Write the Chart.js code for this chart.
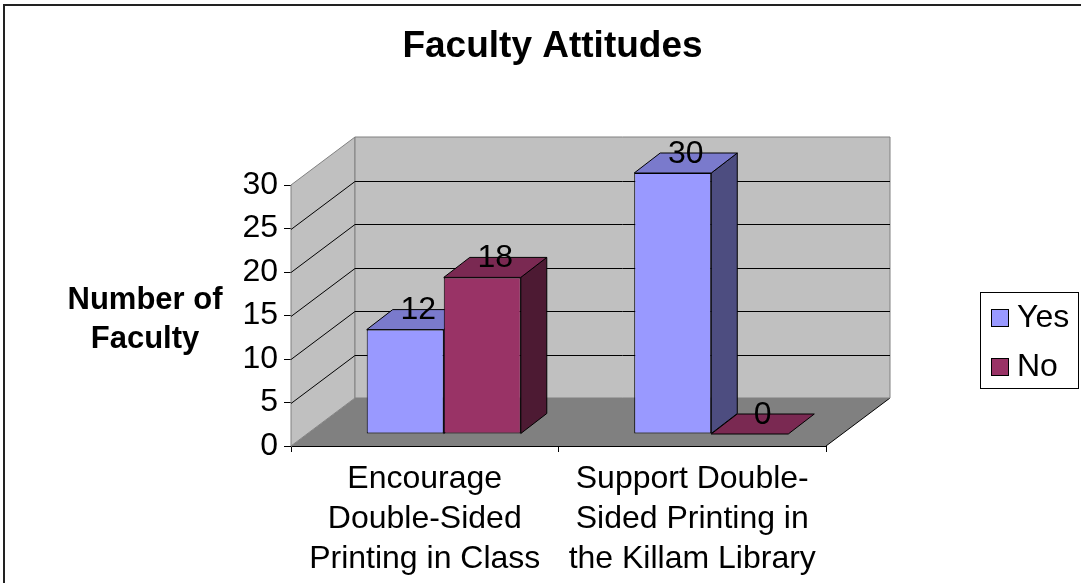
<!DOCTYPE html>
<html>
<head>
<meta charset="utf-8">
<title>Faculty Attitudes</title>
<script src="https://cdn.jsdelivr.net/npm/chart.js@4.4.1/dist/chart.umd.min.js"></script>
<style>
  html, body { margin: 0; padding: 0; background: #fff; }
  canvas { display: block; }
</style>
</head>
<body>
<canvas id="myChart" width="1081" height="583"></canvas>
<script>
var categories = [
  ["Encourage", "Double-Sided", "Printing in Class"],
  ["Support Double-", "Sided Printing in", "the Killam Library"]
];
var seriesNames = ["Yes", "No"];
var yesValues = [12, 30];
var noValues = [18, 0];
var yTicks = [0, 5, 10, 15, 20, 25, 30];
var chartTitle = "Faculty Attitudes";
var axisTitle = ["Number of", "Faculty"];

// front / top / side shades for each series
var frontColors = ["#9999ff", "#993366"];
var topColors = ["#7a7acc", "#7a2952"];
var sideColors = ["#4d4d80", "#4d1a33"];

var FONT = "'Liberation Sans', Arial, sans-serif";

// depth of the floor and walls, where the bars stand in it, and how deep they are
var WALL = {dx: 64, dy: -48};
var BAR_SHIFT = {dx: 19, dy: -12};
var BAR_DEPTH = {dx: 26, dy: -20};

function poly(ctx, pts, fill, stroke) {
  ctx.beginPath();
  ctx.moveTo(pts[0][0], pts[0][1]);
  for (var i = 1; i < pts.length; i++) ctx.lineTo(pts[i][0], pts[i][1]);
  ctx.closePath();
  if (fill) { ctx.fillStyle = fill; ctx.fill(); }
  if (stroke) { ctx.strokeStyle = stroke; ctx.stroke(); }
}

var box3d = {
  id: "box3d",

  // frame, title, axis title, walls, floor and legend
  beforeDatasetsDraw: function (chart) {
    var ctx = chart.ctx, a = chart.chartArea, y = chart.scales.y;
    var L = a.left, R = a.right;
    var B = y.getPixelForValue(0), T = y.getPixelForValue(yTicks[yTicks.length - 1]);
    var dx = WALL.dx, dy = WALL.dy;

    ctx.save();
    ctx.lineWidth = 2;
    ctx.strokeStyle = "#222";
    ctx.strokeRect(4, 5, chart.width + 20, chart.height + 20);

    ctx.fillStyle = "#000";
    ctx.textAlign = "center";
    ctx.textBaseline = "middle";
    ctx.font = "bold 37px " + FONT;
    ctx.fillText(chartTitle, chart.width / 2 + 12, 47);

    ctx.font = "bold 31px " + FONT;
    ctx.fillText(axisTitle[0], 145, 300);
    ctx.fillText(axisTitle[1], 145, 339);

    ctx.lineWidth = 1;
    // floor
    poly(ctx, [[L, B], [R, B], [R + dx, B + dy], [L + dx, B + dy]], "#808080", null);
    ctx.strokeStyle = "#000";
    ctx.beginPath();
    ctx.moveTo(R, B);
    ctx.lineTo(R + dx, B + dy);
    ctx.stroke();
    // side wall and back wall
    poly(ctx, [[L, B], [L, T], [L + dx, T + dy], [L + dx, B + dy]], "#c0c0c0", "#808080");
    poly(ctx, [[L + dx, T + dy], [R + dx, T + dy], [R + dx, B + dy], [L + dx, B + dy]], "#c0c0c0", "#808080");

    // gridlines run along the side wall then across the back wall
    ctx.strokeStyle = "#000";
    yTicks.forEach(function (v, i) {
      if (i === 0 || i === yTicks.length - 1) return;
      var py = Math.round(y.getPixelForValue(v)) + 0.5;
      ctx.beginPath();
      ctx.moveTo(L, py);
      ctx.lineTo(L + dx, py + dy);
      ctx.lineTo(R + dx, py + dy);
      ctx.stroke();
    });

    // legend
    ctx.strokeRect(980.5, 292.5, 98, 96);
    ctx.font = "32px " + FONT;
    ctx.textAlign = "left";
    seriesNames.forEach(function (name, i) {
      var cy = 318 + i * 49;
      ctx.fillStyle = frontColors[i];
      ctx.fillRect(991.5, cy - 8.5, 17, 17);
      ctx.strokeRect(991.5, cy - 8.5, 17, 17);
      ctx.fillStyle = "#000";
      ctx.fillText(name, 1017, cy);
    });
    ctx.restore();
  },

  // bars are drawn below, series by series, so the default pass is skipped
  beforeDatasetDraw: function () {
    return false;
  },

  afterDatasetsDraw: function (chart) {
    var ctx = chart.ctx;
    var bdx = BAR_DEPTH.dx, bdy = BAR_DEPTH.dy;
    ctx.save();
    ctx.translate(BAR_SHIFT.dx, BAR_SHIFT.dy);
    ctx.lineWidth = 1;

    // front face from the bar element, then its side and top
    chart.data.datasets.forEach(function (ds, i) {
      chart.getDatasetMeta(i).data.forEach(function (el) {
        el.draw(ctx);
        var p = el.getProps(["x", "y", "base", "width"], true);
        var l = p.x - p.width / 2, r = p.x + p.width / 2;
        if (p.base - p.y > 0.5) {
          poly(ctx, [[r, p.y], [r, p.base], [r + bdx, p.base + bdy], [r + bdx, p.y + bdy]], sideColors[i], "#000");
        }
        poly(ctx, [[l, p.y], [r, p.y], [r + bdx, p.y + bdy], [l + bdx, p.y + bdy]], topColors[i], "#000");
      });
    });

    // value labels above each bar
    ctx.font = "32px " + FONT;
    ctx.fillStyle = "#000";
    ctx.textAlign = "center";
    ctx.textBaseline = "middle";
    chart.data.datasets.forEach(function (ds, i) {
      chart.getDatasetMeta(i).data.forEach(function (el, j) {
        ctx.fillText(String(ds.data[j]), el.x + bdx / 2, el.y - 19);
      });
    });
    ctx.restore();
  }
};

new Chart("myChart", {
  type: "bar",
  data: {
    labels: categories,
    datasets: [
      {label: seriesNames[0], data: yesValues, backgroundColor: frontColors[0]},
      {label: seriesNames[1], data: noValues, backgroundColor: frontColors[1]}
    ]
  },
  options: {
    responsive: false,
    animation: false,
    events: [],
    layout: {padding: {left: 24, right: 255, top: 185, bottom: 0}},
    datasets: {
      bar: {
        borderColor: "#000",
        borderWidth: 1,
        borderSkipped: false,
        categoryPercentage: 0.576,
        barPercentage: 1.0
      }
    },
    plugins: {
      legend: {display: false},
      title: {display: false},
      tooltip: {enabled: false}
    },
    scales: {
      x: {
        offset: true,
        afterFit: function (s) { s.height = 137; },
        border: {display: true, color: "#000", width: 1},
        grid: {offset: true, drawOnChartArea: false, drawTicks: true, tickLength: 6, color: "#000"},
        ticks: {
          color: "#000",
          padding: 7,
          maxRotation: 0,
          autoSkip: false,
          font: {family: FONT, size: 32, lineHeight: 1.25}
        }
      },
      y: {
        min: 0,
        max: 30,
        afterFit: function (s) { s.width = 267; },
        afterBuildTicks: function (s) { s.ticks = yTicks.map(function (v) { return {value: v}; }); },
        border: {display: true, color: "#666", width: 1},
        grid: {drawOnChartArea: false, drawTicks: true, tickLength: 7, color: "#000"},
        ticks: {
          color: "#000",
          padding: 6,
          font: {family: FONT, size: 32}
        }
      }
    }
  },
  plugins: [box3d]
});
</script>
</body>
</html>
